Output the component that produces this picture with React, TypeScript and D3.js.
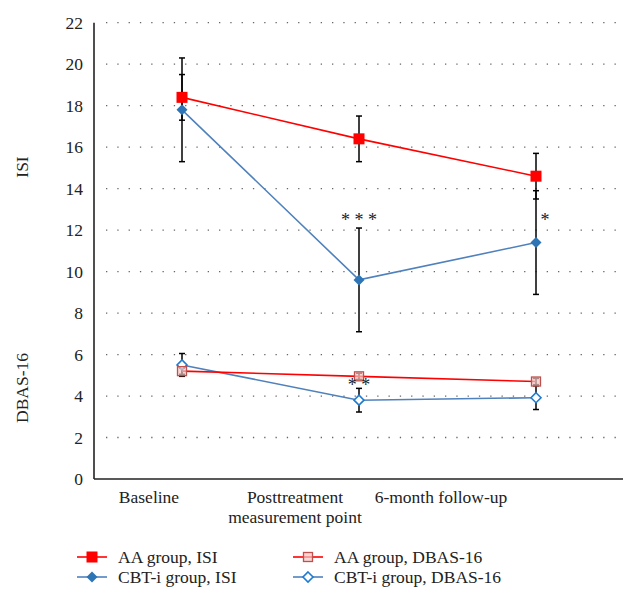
import React from "react";
import * as d3 from "d3";

const categories = ["Baseline", "Posttreatment", "6-month follow-up"];
const categoryLabels = [["Baseline"], ["Posttreatment", "measurement point"], ["6-month follow-up"]];
const yTicks = [0, 2, 4, 6, 8, 10, 12, 14, 16, 18, 20, 22];

const aaISI = [18.4, 16.4, 14.6];
const aaISIErr = [1.1, 1.1, 1.1];
const cbtISI = [17.8, 9.6, 11.4];
const cbtISIErr = [2.5, 2.5, 2.5];
const aaDBAS = [5.2, 4.95, 4.7];
const aaDBASErr = [0.15, 0.15, 0.15];
const cbtDBAS = [5.5, 3.8, 3.92];
const cbtDBASErr = [0.55, 0.57, 0.57];

const annotations = [
  { cat: 1, y: 12.1, text: "* * *" },
  { cat: 2, y: 12.1, text: "*", dx: 9 },
  { cat: 1, y: 4.15, text: "* *" },
];

const legendItems = [
  { label: "AA group, ISI", color: "#ff0000", marker: "square", filled: true },
  { label: "AA group, DBAS-16", color: "#ff0000", marker: "square", filled: false },
  { label: "CBT-i group, ISI", color: "#4f81bd", marker: "diamond", filled: true },
  { label: "CBT-i group, DBAS-16", color: "#4f81bd", marker: "diamond", filled: false },
];

const FONT = "'Liberation Serif', 'Times New Roman', serif";
const RED = "#ff0000";
const BLUE = "#4f81bd";
const BLUE_MARK = "#2e75b6";

function Marker({ x, y, type, filled }: { x: number; y: number; type: string; filled: boolean }) {
  if (type === "square") {
    if (filled) return <rect x={x - 5.5} y={y - 5.5} width={11} height={11} fill={RED} />;
    return <rect x={x - 4.5} y={y - 4.5} width={9} height={9} fill="#f4c7c3" fillOpacity={0.7} stroke="#c0504d" strokeWidth={1.3} />;
  }
  const s = filled ? 5.5 : 5;
  const path = `M${x},${y - s}L${x + s},${y}L${x},${y + s}L${x - s},${y}Z`;
  if (filled) return <path d={path} fill={BLUE_MARK} />;
  return <path d={path} fill="#ffffff" stroke="#1f7bd0" strokeWidth={1.6} />;
}

export default function App() {
  const W = 638, H = 609;
  const y = d3.scaleLinear().domain([0, 22]).range([479, 22.7]);
  const x = d3.scalePoint<string>().domain(categories).range([182, 536]);
  const xLab = d3.scalePoint<string>().domain(categories).range([149, 441]);
  const left = 94, right = 623;

  const line = d3.line<number>().x((_, i) => x(categories[i])!).y((d) => y(d));

  const errBars = (vals: number[], errs: number[], key: string) =>
    vals.map((v, i) => {
      const cx = x(categories[i])!;
      const y1 = y(v + errs[i]), y2 = y(v - errs[i]);
      return (
        <g key={key + i} stroke="#000" strokeWidth={1.5}>
          <line x1={cx} x2={cx} y1={y1} y2={y2} />
          <line x1={cx - 3} x2={cx + 3} y1={y1} y2={y1} />
          <line x1={cx - 3} x2={cx + 3} y1={y2} y2={y2} />
        </g>
      );
    });

  const series = [
    { vals: cbtDBAS, color: BLUE, marker: "diamond", filled: false },
    { vals: aaDBAS, color: RED, marker: "square", filled: false },
    { vals: cbtISI, color: BLUE, marker: "diamond", filled: true },
    { vals: aaISI, color: RED, marker: "square", filled: true },
  ];

  return (
    <svg width={W} height={H} style={{ position: "absolute", left: 0, top: 0, background: "#fff", fontFamily: FONT }} fontFamily={FONT}>
      {yTicks.filter((t) => t > 0).map((t) => (
        <line key={"g" + t} x1={106} x2={right} y1={y(t)} y2={y(t)} stroke="#666" strokeWidth={1.3} strokeDasharray="1.3 10" />
      ))}
      <line x1={left} x2={left} y1={y(22)} y2={y(0)} stroke="#222" strokeWidth={1.6} />
      <line x1={left} x2={right} y1={y(0)} y2={y(0)} stroke="#222" strokeWidth={1.6} />
      {yTicks.map((t) => (
        <text key={"t" + t} x={83} y={y(t)} dy="0.35em" textAnchor="end" fontSize={17.5} fill="#222">{t}</text>
      ))}
      <text transform={`translate(28,167) rotate(-90)`} textAnchor="middle" fontSize={17.5} fill="#222">ISI</text>
      <text transform={`translate(28,388) rotate(-90)`} textAnchor="middle" fontSize={17.5} fill="#222">DBAS-16</text>
      {categories.map((c, i) => (
        <text key={"c" + c} x={xLab(c)} y={503} textAnchor="middle" fontSize={17.5} fill="#222">
          {categoryLabels[i].map((l, j) => (
            <tspan key={j} x={xLab(c)} dy={j === 0 ? 0 : 20}>{l}</tspan>
          ))}
        </text>
      ))}
      {errBars(cbtDBAS, cbtDBASErr, "ecd")}
      {errBars(aaDBAS, aaDBASErr, "ead")}
      {errBars(cbtISI, cbtISIErr, "eci")}
      {errBars(aaISI, aaISIErr, "eai")}
      {series.map((s, k) => (
        <path key={"l" + k} d={line(s.vals)!} fill="none" stroke={s.color} strokeWidth={1.6} />
      ))}
      {series.map((s, k) =>
        s.vals.map((v, i) => (
          <Marker key={"m" + k + i} x={x(categories[i])!} y={y(v)} type={s.marker} filled={s.filled} />
        ))
      )}
      {annotations.map((a, i) => (
        <text key={"a" + i} x={x(categories[a.cat])! + (a.dx || 0)} y={y(a.y) - 2} textAnchor="middle" fontSize={18} fill="#222">{a.text}</text>
      ))}
      {legendItems.map((it, i) => {
        const col = i % 2, row = Math.floor(i / 2);
        const lx = col === 0 ? 77 : 293;
        const ly = 557 + row * 20;
        return (
          <g key={"lg" + i}>
            <line x1={lx} x2={lx + 30} y1={ly} y2={ly} stroke={it.color} strokeWidth={1.6} />
            <Marker x={lx + 15} y={ly} type={it.marker} filled={it.filled} />
            <text x={lx + 41} y={ly} dy="0.35em" fontSize={17.5} fill="#222">{it.label}</text>
          </g>
        );
      })}
    </svg>
  );
}
